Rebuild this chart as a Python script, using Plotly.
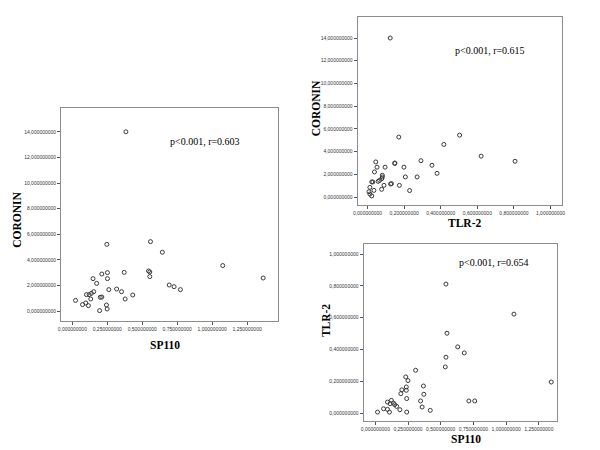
import plotly.graph_objects as go

# ---- data ----
left_sp110 = [0.383, 0.559, 0.247, 0.644, 1.076, 1.365, 0.545, 0.554, 0.554, 0.371, 0.251, 0.251, 0.211,
              0.148, 0.174, 0.693, 0.728, 0.773, 0.317, 0.261, 0.352, 0.153, 0.136, 0.120, 0.101, 0.432,
              0.132, 0.211, 0.200, 0.378, 0.023, 0.096, 0.073, 0.115, 0.244, 0.249, 0.195]
left_coronin = [14.0, 5.42, 5.21, 4.59, 3.55, 2.58, 3.13, 3.05, 2.69, 3.02, 3.0, 2.53, 2.89,
                2.53, 2.16, 2.03, 1.90, 1.67, 1.72, 1.67, 1.51, 1.51, 1.38, 1.28, 1.28, 1.25,
                0.94, 1.09, 1.07, 0.94, 0.83, 0.63, 0.50, 0.42, 0.47, 0.16, 0.03]

tr_tlr2 = [0.124, 0.503, 0.171, 0.417, 0.621, 0.806, 0.292, 0.352, 0.149, 0.149, 0.045, 0.052, 0.096,
           0.199, 0.038, 0.081, 0.081, 0.078, 0.380, 0.207, 0.271, 0.066, 0.058, 0.023, 0.029, 0.131,
           0.126, 0.090, 0.174, 0.077, 0.035, 0.230, 0.013, 0.008, 0.013, 0.023]
tr_coronin = [14.0, 5.45, 5.28, 4.63, 3.60, 3.15, 3.20, 2.80, 3.0, 2.95, 3.09, 2.63, 2.63,
              2.63, 2.21, 1.92, 1.77, 1.62, 2.09, 1.77, 1.77, 1.47, 1.38, 1.33, 1.33, 1.18,
              1.15, 1.03, 1.03, 0.68, 0.59, 0.57, 0.85, 0.47, 0.26, 0.10]

br_sp110 = [0.54, 1.06, 0.548, 0.63, 0.68, 0.54, 0.535, 0.308, 1.345, 0.233, 0.25, 0.237, 0.237,
            0.203, 0.195, 0.368, 0.371, 0.24, 0.346, 0.715, 0.76, 0.358, 0.42, 0.24, 0.017, 0.093,
            0.123, 0.113, 0.138, 0.148, 0.163, 0.188, 0.063, 0.093, 0.108]
br_tlr2 = [0.811, 0.622, 0.502, 0.416, 0.378, 0.351, 0.290, 0.269, 0.195, 0.227, 0.204, 0.164, 0.143,
           0.146, 0.122, 0.170, 0.118, 0.091, 0.076, 0.076, 0.076, 0.038, 0.017, 0.006, 0.006, 0.069,
           0.080, 0.059, 0.063, 0.053, 0.042, 0.021, 0.027, 0.023, 0.006]

sp110_ticks = [0, 0.25, 0.5, 0.75, 1.0, 1.25]
sp110_labels = ["0,000000000", "0,250000000", "0,500000000", "0,750000000", "1,000000000", "1,250000000"]
coronin_ticks = [0, 2, 4, 6, 8, 10, 12, 14]
coronin_labels = ["0,000000000", "2,000000000", "4,000000000", "6,000000000", "8,000000000",
                  "10,000000000", "12,000000000", "14,000000000"]
tlr2_ticks = [0, 0.2, 0.4, 0.6, 0.8, 1.0]
tlr2_labels = ["0,000000000", "0,200000000", "0,400000000", "0,600000000", "0,800000000", "1,000000000"]

stats_texts = ["p<0.001, r=0.603", "p<0.001, r=0.615", "p<0.001, r=0.654"]

W, H = 600, 450
def px(x): return x / W
def py(y): return 1 - y / H

marker = dict(symbol="circle-open", size=4, color="#3a3a3a", line=dict(width=1, color="#3a3a3a"))

fig = go.Figure()
fig.add_trace(go.Scatter(x=left_sp110, y=left_coronin, mode="markers", marker=marker,
                         xaxis="x", yaxis="y", showlegend=False))
fig.add_trace(go.Scatter(x=tr_tlr2, y=tr_coronin, mode="markers", marker=marker,
                         xaxis="x2", yaxis="y2", showlegend=False))
fig.add_trace(go.Scatter(x=br_sp110, y=br_tlr2, mode="markers", marker=marker,
                         xaxis="x3", yaxis="y3", showlegend=False))

tickfont = dict(family="Arial, Liberation Sans, sans-serif", size=5, color="#333333")
def axis(domain, rng, tv, tt, anchor):
    return dict(domain=domain, range=rng, tickvals=tv, ticktext=tt, anchor=anchor,
                showgrid=False, zeroline=False, showline=True, mirror=True,
                linecolor="#8c8c8c", linewidth=1, ticks="outside", ticklen=3,
                tickcolor="#555555", tickfont=tickfont, fixedrange=True)

fig.update_layout(
    width=W, height=H, margin=dict(l=0, r=0, t=0, b=0),
    paper_bgcolor="white", plot_bgcolor="white",
    xaxis=axis([px(57), px(277)], [-0.08, 1.47], sp110_ticks, sp110_labels, "y"),
    yaxis=axis([py(321), py(108)], [-0.78, 15.86], coronin_ticks, coronin_labels, "x"),
    xaxis2=axis([px(358), px(565)], [-0.054, 1.06], tlr2_ticks, tlr2_labels, "y2"),
    yaxis2=axis([py(205), py(17)], [-0.70, 15.85], coronin_ticks, coronin_labels, "x2"),
    xaxis3=axis([px(364), px(560)], [-0.09, 1.386], sp110_ticks, sp110_labels, "y3"),
    yaxis3=axis([py(421), py(244)], [-0.05, 1.063], tlr2_ticks, tlr2_labels, "x3"),
)

titlefont = dict(family="Liberation Serif, Times New Roman, serif", size=11.5, color="black")
statfont = dict(family="Liberation Serif, Times New Roman, serif", size=10, color="black")
ann = [
    dict(text="<b>CORONIN</b>", x=px(12), y=py(220), textangle=-90, font=titlefont),
    dict(text="<b>SP110</b>", x=px(162), y=py(345), font=titlefont),
    dict(text="<b>CORONIN</b>", x=px(316), y=py(108), textangle=-90, font=titlefont),
    dict(text="<b>TLR-2</b>", x=px(466), y=py(215), font=titlefont, yanchor="top"),
    dict(text="<b>TLR-2</b>", x=px(326), y=py(321), textangle=-90, font=titlefont),
    dict(text="<b>SP110</b>", x=px(468), y=py(439), font=titlefont),
    dict(text=stats_texts[0], x=px(203), y=py(141), font=statfont),
    dict(text=stats_texts[1], x=px(492), y=py(51), font=statfont),
    dict(text=stats_texts[2], x=px(496), y=py(262), font=statfont),
]
for a in ann:
    a.setdefault("yanchor", "middle")
    a.update(xref="paper", yref="paper", showarrow=False, xanchor="center")
    fig.add_annotation(**a)

fig.write_html("out.html", config={"displayModeBar": False},
               post_script="document.body.style.margin='0';document.body.style.padding='0';")
